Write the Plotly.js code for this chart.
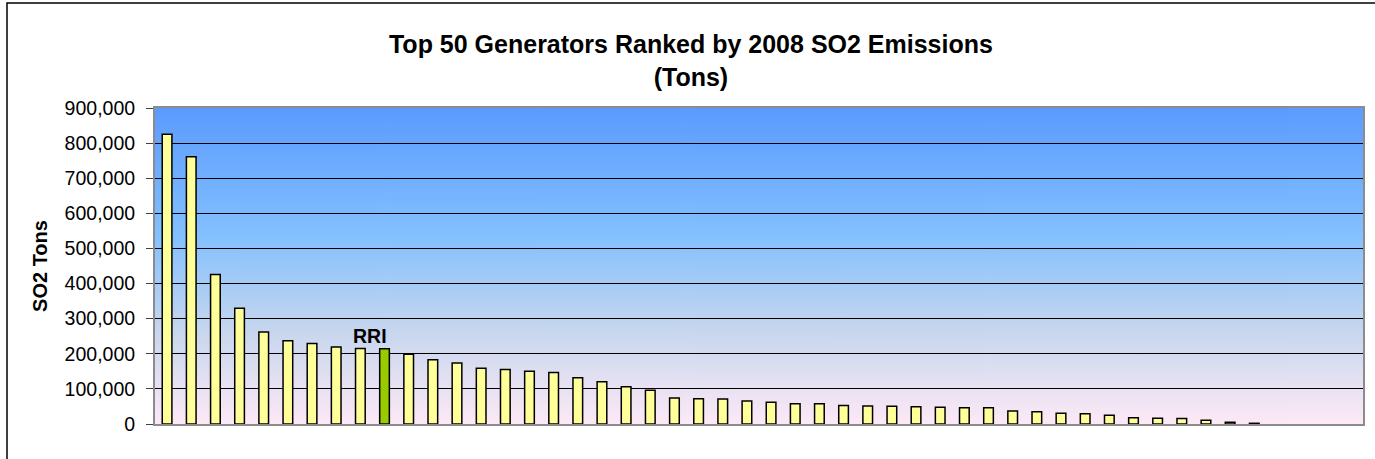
<!DOCTYPE html>
<html>
<head>
<meta charset="utf-8">
<script src="https://cdn.plot.ly/plotly-3.0.1.min.js"></script>
<style>
  html, body { margin: 0; padding: 0; background: #ffffff; }
  #chart { width: 1375px; height: 459px; }
</style>
</head>
<body>
<div id="chart"></div>
<script>
// ---- data ----
const ranks = [1,2,3,4,5,6,7,8,9,10,11,12,13,14,15,16,17,18,19,20,21,22,23,24,25,
               26,27,28,29,30,31,32,33,34,35,36,37,38,39,40,41,42,43,44,45,46,47,48,49,50];
const so2Tons = [825000, 761000, 426000, 330000, 262000, 237000, 229000, 219000, 215000, 214000,
                 199000, 183000, 174000, 159000, 155000, 150000, 147000, 132000, 120000, 106000,
                 96000, 74000, 72000, 71000, 65500, 61700, 58000, 57500, 53000, 51300,
                 50300, 49400, 47500, 46500, 46000, 37000, 35000, 30400, 29400, 24700,
                 18000, 16100, 16000, 10500, 4800, 2000, null, null, null, null];
const highlightRank = 10;
const highlightLabel = 'RRI';
const yTicks = [0, 100000, 200000, 300000, 400000, 500000, 600000, 700000, 800000, 900000];
const chartTitle = 'Top 50 Generators Ranked by 2008 SO2 Emissions<br>(Tons)';
const yTitle = 'SO2 Tons';

// ---- styling ----
const barColor = '#ffff99';
const highlightColor = '#99cc00';
const colors = ranks.map(r => r === highlightRank ? highlightColor : barColor);

// gradient background for the plot area
function gradientURL() {
  const c = document.createElement('canvas');
  c.width = 8; c.height = 316;
  const g = c.getContext('2d');
  const lg = g.createLinearGradient(0, 0, 0, 316);
  lg.addColorStop(0.0, '#5b9bfe');
  lg.addColorStop(0.40, '#82c0ff');
  lg.addColorStop(0.70, '#c6d6ee');
  lg.addColorStop(1.0, '#fde9f6');
  g.fillStyle = lg;
  g.fillRect(0, 0, 8, 316);
  return c.toDataURL('image/png');
}

const L = 155, R = 12, T = 108, B = 35;
const W = 1375, H = 459;
const pw = W - L - R, ph = H - T - B;
const fx = px => (px - L) / pw;
const fy = py => (H - B - py) / ph;

const trace = {
  type: 'bar',
  x: ranks,
  y: so2Tons,
  marker: { color: colors, line: { color: '#000000', width: 1.5 } },
  hoverinfo: 'x+y'
};

const layout = {
  width: W, height: H,
  margin: { l: L, r: R, t: T, b: B, pad: 0 },
  paper_bgcolor: '#ffffff',
  plot_bgcolor: 'rgba(0,0,0,0)',
  font: { family: '"Liberation Sans", Arial, sans-serif', color: '#000000', size: 19 },
  showlegend: false,
  bargap: 0.6,
  title: {
    text: chartTitle,
    font: { size: 25, weight: 'bold', family: '"Liberation Sans", Arial, sans-serif' },
    x: 0.5025, xref: 'container', xanchor: 'center',
    y: 1 - 53 / H, yref: 'container', yanchor: 'top'
  },
  xaxis: {
    type: 'linear',
    range: [0.5, 50.5],
    showticklabels: false,
    ticks: '',
    showgrid: false,
    zeroline: false,
    showline: true, mirror: true, linecolor: '#8c8c8c', linewidth: 2
  },
  yaxis: {
    range: [0, 900000],
    tickvals: yTicks,
    tickformat: ',d',
    ticks: 'outside', ticklen: 7, tickwidth: 1, tickcolor: '#404040',
    ticklabelstandoff: 7,
    showgrid: true, gridcolor: '#000000', gridwidth: 1,
    zeroline: false,
    showline: true, mirror: true, linecolor: '#8c8c8c', linewidth: 2,
    tickfont: { size: 19.5 },
    title: { text: yTitle, font: { size: 20, weight: 'bold' }, standoff: 12 }
  },
  images: [{
    source: gradientURL(),
    xref: 'paper', yref: 'paper', x: 0, y: 1, sizex: 1, sizey: 1,
    sizing: 'stretch', layer: 'below', xanchor: 'left', yanchor: 'top'
  }],
  annotations: [{
    x: highlightRank - 0.6, y: so2Tons[highlightRank - 1],
    xref: 'x', yref: 'y',
    text: '<b>' + highlightLabel + '</b>',
    showarrow: false, yanchor: 'bottom', xanchor: 'center', yshift: 0,
    font: { size: 19.5 }
  }],
  shapes: [{
    type: 'path', xref: 'paper', yref: 'paper',
    path: 'M ' + fx(7) + ' ' + fy(470) + ' L ' + fx(7) + ' ' + fy(3) + ' L ' + fx(1400) + ' ' + fy(3),
    line: { color: '#000000', width: 1.5 }
  }]
};

Plotly.newPlot('chart', [trace], layout, { displayModeBar: false, staticPlot: true });
</script>
</body>
</html>
